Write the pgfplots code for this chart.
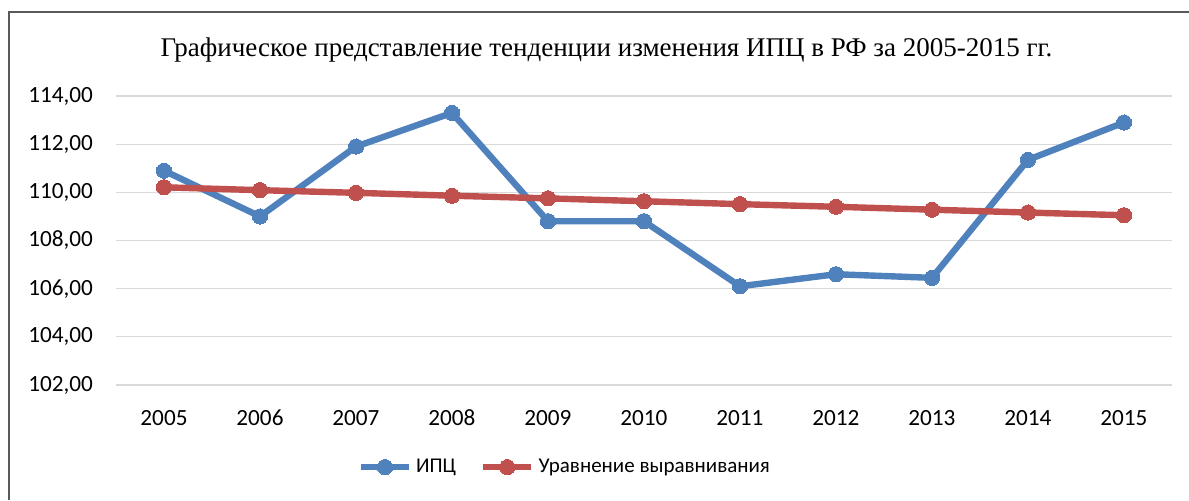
\documentclass[border=0pt]{standalone}
\usepackage{pgfplots}
\pgfplotsset{compat=1.18}
\usepackage{fontspec}
\setmainfont{Carlito}
\newfontfamily\titlefont{Liberation Serif}
\definecolor{cpiblue}{HTML}{4F81BD}
\definecolor{trendred}{HTML}{C0504D}
\definecolor{gridgray}{HTML}{D9D9D9}
\definecolor{framegray}{HTML}{595959}
\begin{document}
\begin{tikzpicture}
\useasboundingbox (0,0) rectangle (594.5pt,-250pt);
\draw[framegray, line width=0.6pt] (4.5pt,-250pt) -- (4.5pt,-6pt) -- (594.5pt,-6pt);
\node[anchor=base, font=\titlefont\fontsize{13.5}{16}\selectfont] at (303.25pt,-28pt)
  {Графическое представление тенденции изменения ИПЦ в РФ за 2005-2015 гг.};
\begin{axis}[
  at={(58pt,-192.5pt)}, anchor=south west,
  scale only axis, width=528pt, height=144.5pt,
  xmin=2004.5, xmax=2015.5, ymin=102, ymax=114,
  xtick={2005,...,2015}, ytick={102,104,...,114},
  axis x line*=bottom, axis y line*=left,
  x axis line style={gridgray, line width=0.6pt, -},
  y axis line style={draw=none},
  ymajorgrids, grid style={gridgray, line width=0.6pt},
  major tick length=0pt,
  tick label style={font=\fontsize{11.6}{14}\selectfont},
  /pgf/number format/assume math mode=true,
  xticklabel style={anchor=base, yshift=-20pt, /pgf/number format/1000 sep={}},
  yticklabel style={xshift=-8pt, /pgf/number format/.cd, fixed, fixed zerofill, precision=2, use comma, 1000 sep={}},
  legend columns=2,
  legend style={at={(0.426,-0.284)}, anchor=center, draw=none, fill=none,
    font=\fontsize{10.5}{13}\selectfont, /tikz/every even column/.append style={column sep=10pt},
    inner sep=0pt},
  legend cell align=left,
  legend image code/.code={\draw[#1, mark repeat=2, mark phase=2] plot coordinates {(0pt,0pt) (12pt,0pt) (24pt,0pt)};},
]
\addplot[cpiblue, line width=3.2pt, mark=*, mark size=3.8pt, mark options={solid, line width=0pt, fill=cpiblue}] coordinates {
(2005,110.9) (2006,109.0) (2007,111.9) (2008,113.3) (2009,108.8) (2010,108.8)
(2011,106.1) (2012,106.6) (2013,106.45) (2014,111.35) (2015,112.9)};
\addlegendentry{ИПЦ}
\addplot[trendred, line width=3.2pt, mark=*, mark size=3.8pt, mark options={solid, line width=0pt, fill=trendred}] coordinates {
(2005,110.21) (2006,110.09) (2007,109.98) (2008,109.86) (2009,109.75) (2010,109.63)
(2011,109.51) (2012,109.40) (2013,109.28) (2014,109.16) (2015,109.05)};
\addlegendentry{Уравнение выравнивания}
\end{axis}
\end{tikzpicture}
\end{document}
